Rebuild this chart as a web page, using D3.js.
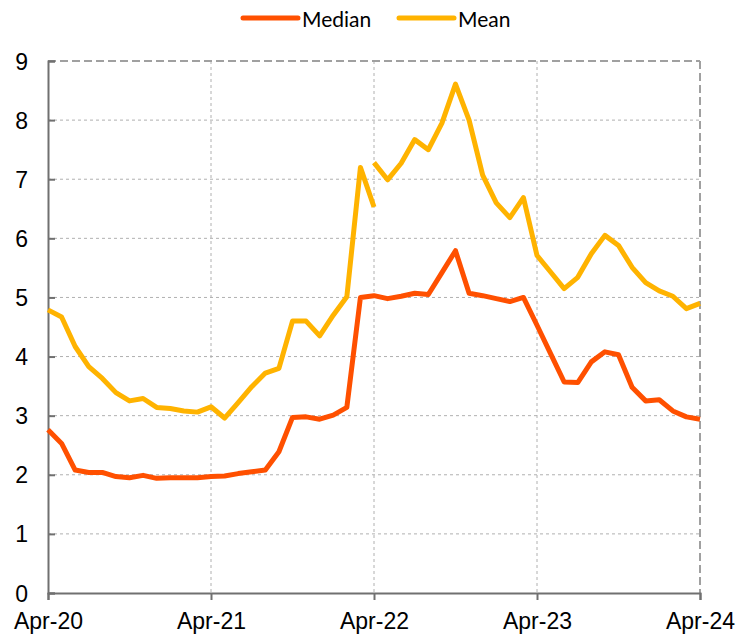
<!DOCTYPE html>
<html><head><meta charset="utf-8">
<script src="https://cdn.jsdelivr.net/npm/d3@7"></script>
<style>body{margin:0;background:#fff}svg{display:block}
.tk text{font-family:"Liberation Sans",Arial,Helvetica,sans-serif;font-size:23px;fill:#000}</style>
</head><body><svg id="c" width="738" height="634"></svg>
<script>
// Months since Apr-20 (0..48)
const tickLabels = ["Apr-20","Apr-21","Apr-22","Apr-23","Apr-24"];
const tickMonths = [0,12,24,36,48];
const yTicks = [0,1,2,3,4,5,6,7,8,9];
const median = [2.76,2.53,2.08,2.04,2.04,1.97,1.95,1.99,1.94,1.95,1.95,1.95,1.97,1.98,2.02,2.05,2.08,2.39,2.97,2.98,2.94,3.01,3.14,5.0,5.03,4.98,5.02,5.07,5.05,5.42,5.79,5.07,5.03,4.98,4.93,5.0,4.53,4.05,3.57,3.56,3.91,4.08,4.03,3.48,3.25,3.27,3.08,2.98,2.94];
// Mean: earlier segment (months 0..24) and revised segment (months 24..48)
const meanOld = [4.79,4.67,4.17,3.83,3.63,3.39,3.25,3.29,3.14,3.12,3.08,3.06,3.15,2.96,3.22,3.49,3.72,3.8,4.6,4.6,4.35,4.7,5.01,7.2,6.53];
const meanNew = [7.28,6.99,7.27,7.67,7.5,7.95,8.61,8.0,7.07,6.6,6.35,6.69,5.71,5.43,5.15,5.34,5.74,6.05,5.88,5.51,5.25,5.11,5.02,4.81,4.9];
const meanNewStart = 24;

const svg = d3.select("#c");
const L=48, R=700, T=61, B=593;
const x = d3.scaleLinear().domain([0,48]).range([L,R]);
const y = d3.scaleLinear().domain([0,9]).range([B,T]);

const grid = svg.append("g");
grid.selectAll("line.h").data(yTicks.filter(d=>d>0&&d<9)).enter().append("line")
  .attr("x1",L).attr("x2",R).attr("y1",d=>y(d)).attr("y2",d=>y(d))
  .attr("stroke","#b0b0b0").attr("stroke-width",1).attr("stroke-dasharray","3,3");
grid.selectAll("line.v").data(tickMonths.filter(d=>d>0&&d<48)).enter().append("line")
  .attr("y1",T).attr("y2",B).attr("x1",d=>x(d)).attr("x2",d=>x(d))
  .attr("stroke","#b0b0b0").attr("stroke-width",1).attr("stroke-dasharray","3,3");
// top/right dashed border
svg.append("line").attr("x1",L).attr("x2",R).attr("y1",T).attr("y2",T)
  .attr("stroke","#a0a0a0").attr("stroke-width",2).attr("stroke-dasharray","8,4");
svg.append("line").attr("x1",R).attr("x2",R).attr("y1",T).attr("y2",B)
  .attr("stroke","#a0a0a0").attr("stroke-width",2).attr("stroke-dasharray","8,4");

// axes
const yAxis = svg.append("g").attr("class","tk").attr("transform",`translate(${L},0)`)
  .call(d3.axisLeft(y).tickValues(yTicks).tickSize(-7).tickPadding(20).tickFormat(d3.format("d")));
const xAxis = svg.append("g").attr("class","tk").attr("transform",`translate(0,${B})`)
  .call(d3.axisBottom(x).tickValues(tickMonths).tickSize(7).tickPadding(13).tickFormat((d,i)=>tickLabels[i]));
[yAxis,xAxis].forEach(a=>{
  a.attr("font-family",null).attr("font-size",null);
  a.select(".domain").attr("stroke","#707070").attr("stroke-width",2);
  a.selectAll(".tick line").attr("stroke","#707070").attr("stroke-width",2);
  a.selectAll("text").attr("fill","#000");
});
yAxis.selectAll("text").attr("dy","0.35em");
xAxis.selectAll("text").attr("dy","0.71em");

const line = d3.line().x(d=>x(d[0])).y(d=>y(d[1]));
const draw = (pts,color)=>svg.append("path").datum(pts).attr("d",line)
  .attr("fill","none").attr("stroke",color).attr("stroke-width",5).attr("stroke-linejoin","round").attr("stroke-linecap","butt");
draw(meanOld.map((v,i)=>[i,v]),"#FFB300");
draw(meanNew.map((v,i)=>[i+meanNewStart,v]),"#FFB300");
draw(median.map((v,i)=>[i,v]),"#FF5000");

// legend
const legend = [["Median","#FF5000",243],["Mean","#FFB300",399]];
const lg = svg.append("g");
legend.forEach(([name,color,lx])=>{
  lg.append("line").attr("x1",lx).attr("x2",lx+55).attr("y1",18).attr("y2",18)
    .attr("stroke",color).attr("stroke-width",5).attr("stroke-linecap","round");
  lg.append("text").attr("x",lx+59).attr("y",27).text(name)
    .style("font-family","Lato,'Open Sans',sans-serif").style("font-size","21px").attr("fill","#000");
});
</script></body></html>
